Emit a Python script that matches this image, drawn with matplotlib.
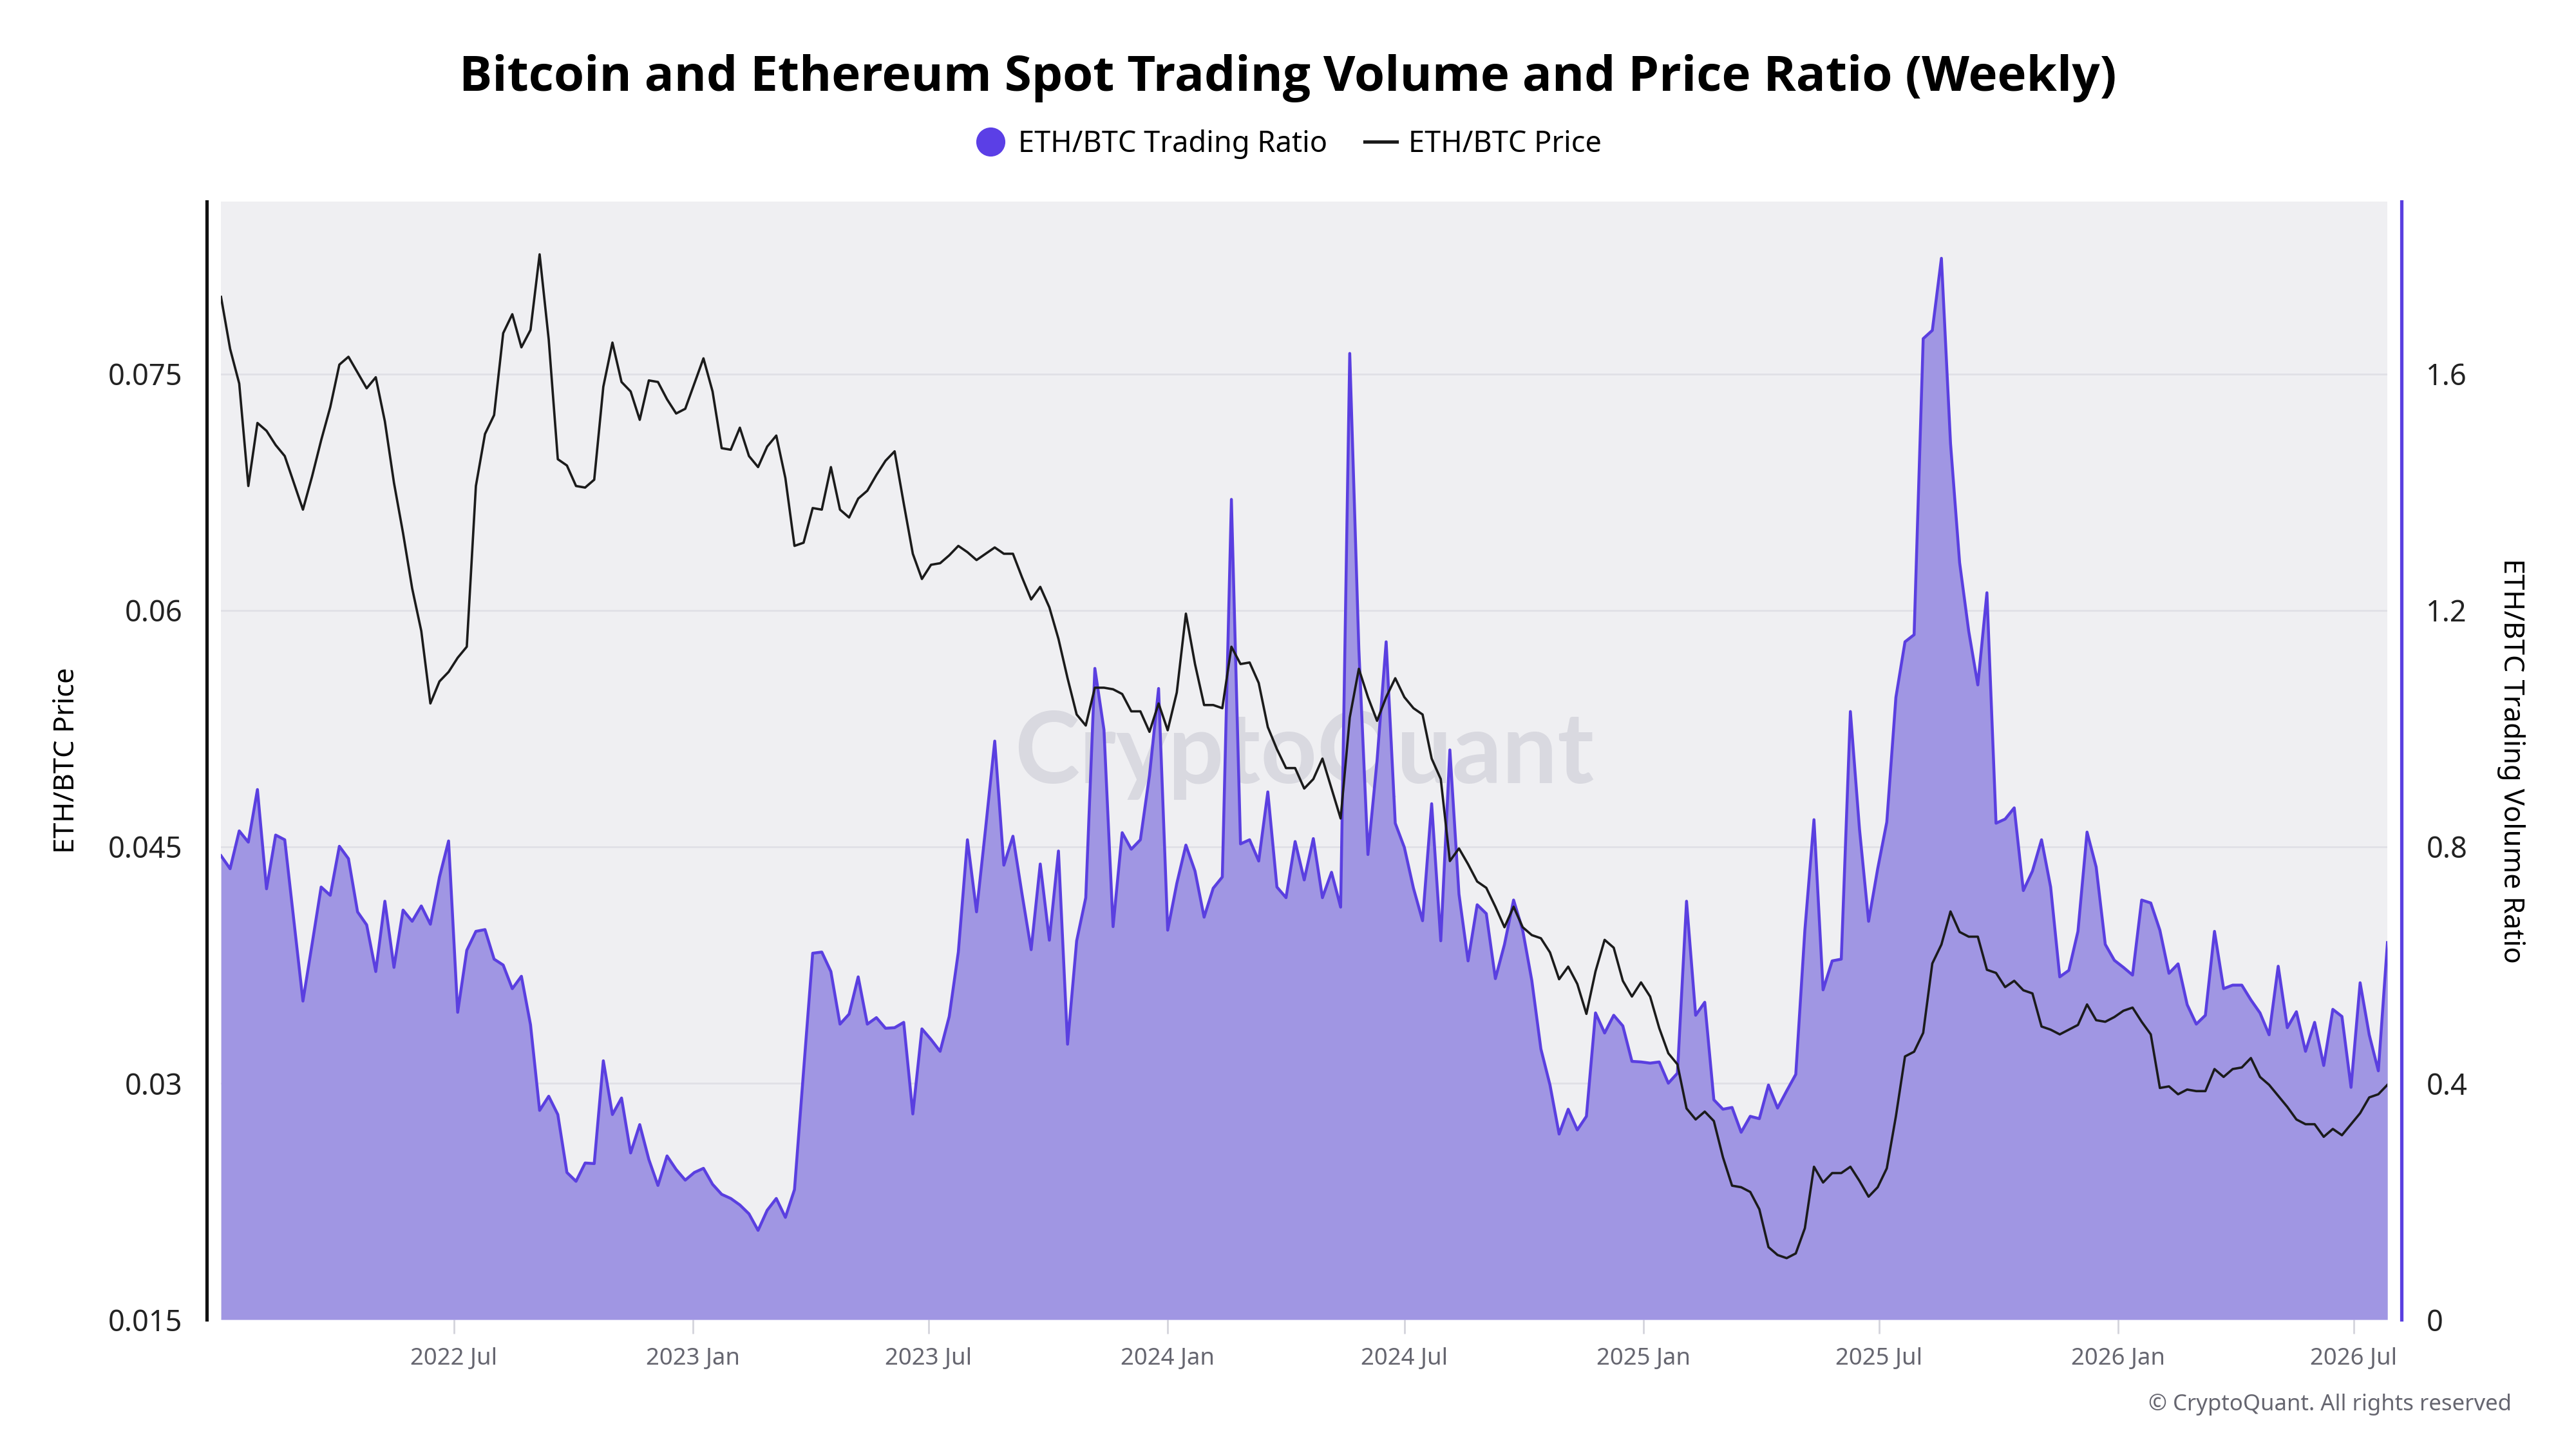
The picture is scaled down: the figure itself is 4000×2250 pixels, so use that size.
"""
ETH/BTC weekly spot trading volume ratio vs ETH/BTC price.
"""

import matplotlib
matplotlib.use("Agg")
import matplotlib.pyplot as plt
import pandas as pd
from matplotlib.lines import Line2D

plt.rcParams["font.family"] = ["Noto Sans", "DejaVu Sans"]

START_WEEK = "2022-01-03"

eth_btc_price = [
    0.0799, 0.0766, 0.0744, 0.0679, 0.0719, 0.0714, 0.0705, 0.0698, 0.0681, 0.0664,
    0.0685, 0.0708, 0.0729, 0.0756, 0.0761, 0.0751, 0.0741, 0.0748, 0.0720, 0.0681,
    0.0649, 0.0614, 0.0587, 0.0541, 0.0555, 0.0561, 0.0570, 0.0577, 0.0679, 0.0712,
    0.0724, 0.0776, 0.0788, 0.0767, 0.0778, 0.0826, 0.0772, 0.0696, 0.0692, 0.0679,
    0.0678, 0.0683, 0.0742, 0.0770, 0.0745, 0.0739, 0.0721, 0.0746, 0.0745,
    0.0734, 0.0725, 0.0728, 0.0744, 0.0760, 0.0739, 0.0703, 0.0702, 0.0716, 0.0698,
    0.0691, 0.0704, 0.0711, 0.0684, 0.0641, 0.0643, 0.0665, 0.0664, 0.0691, 0.0664,
    0.0659, 0.0671, 0.0676, 0.0686, 0.0695, 0.0701, 0.0668, 0.0636, 0.0620, 0.0629,
    0.0630, 0.0635, 0.0641, 0.0637, 0.0632, 0.0636, 0.0640, 0.0636, 0.0636, 0.0621,
    0.0607, 0.0615, 0.0602, 0.0582, 0.0557, 0.0534, 0.0527,
    0.0551, 0.0551, 0.0550, 0.0547, 0.0536, 0.0536, 0.0523, 0.0541, 0.0524, 0.0548,
    0.0598, 0.0566, 0.0540, 0.0540, 0.0538, 0.0577, 0.0566, 0.0567, 0.0554, 0.0526,
    0.0512, 0.0500, 0.0500, 0.0487, 0.0493, 0.0506, 0.0487, 0.0468, 0.0532, 0.0563,
    0.0545, 0.0530, 0.0545, 0.0557, 0.0545, 0.0538, 0.0534, 0.0506, 0.0493, 0.0441,
    0.0449, 0.0439, 0.0428, 0.0424, 0.0412, 0.0399, 0.0412,
    0.0399, 0.0394, 0.0392, 0.0383, 0.0366, 0.0374, 0.0363, 0.0344, 0.0371, 0.0391,
    0.0386, 0.0365, 0.0355, 0.0364, 0.0355, 0.0335, 0.0319, 0.0312, 0.0284, 0.0277,
    0.0282, 0.0276, 0.0253, 0.0235, 0.0234, 0.0231, 0.0220, 0.0196, 0.0191, 0.0189,
    0.0192, 0.0208, 0.0247, 0.0237, 0.0243, 0.0243, 0.0247, 0.0238, 0.0228, 0.0234,
    0.0246, 0.0279, 0.0317, 0.0320, 0.0332, 0.0376, 0.0388,
    0.0409, 0.0396, 0.0393, 0.0393, 0.0372, 0.0370, 0.0361, 0.0365, 0.0359, 0.0357,
    0.0336, 0.0334, 0.0331, 0.0334, 0.0337, 0.0350, 0.0340, 0.0339, 0.0342, 0.0346,
    0.0348, 0.0339, 0.0331, 0.0297, 0.0298, 0.0293, 0.0296, 0.0295, 0.0295, 0.0309,
    0.0304, 0.0309, 0.0310, 0.0316, 0.0304, 0.0299, 0.0292, 0.0285, 0.0277, 0.0274,
    0.0274, 0.0266, 0.0271, 0.0267, 0.0274, 0.0281, 0.0291, 0.0293, 0.0299,
]

trading_ratio = [
    0.785, 0.763, 0.827, 0.808, 0.897, 0.729, 0.820, 0.812, 0.675, 0.539,
    0.635, 0.732, 0.718, 0.801, 0.780, 0.690, 0.668, 0.589, 0.708, 0.596,
    0.693, 0.674, 0.700, 0.669, 0.749, 0.810, 0.520, 0.625, 0.657, 0.660,
    0.610, 0.600, 0.560, 0.581, 0.499, 0.354, 0.378, 0.347, 0.249, 0.234,
    0.265, 0.264, 0.438, 0.347, 0.375, 0.282, 0.330, 0.271, 0.227,
    0.277, 0.254, 0.236, 0.249, 0.256, 0.229, 0.212, 0.205, 0.194, 0.179,
    0.151, 0.185, 0.205, 0.173, 0.220, 0.421, 0.620, 0.622, 0.589, 0.500,
    0.517, 0.580, 0.500, 0.511, 0.493, 0.494, 0.503, 0.348, 0.492, 0.474,
    0.454, 0.513, 0.622, 0.812, 0.690, 0.832, 0.979, 0.769, 0.818, 0.720,
    0.626, 0.771, 0.642, 0.793, 0.466, 0.641, 0.714,
    1.102, 0.998, 0.665, 0.824, 0.796, 0.812, 0.921, 1.068, 0.659, 0.738,
    0.803, 0.759, 0.681, 0.730, 0.749, 1.388, 0.805, 0.812, 0.776, 0.893,
    0.732, 0.714, 0.809, 0.744, 0.814, 0.714, 0.757, 0.698, 1.635, 1.135,
    0.787, 0.946, 1.147, 0.840, 0.799, 0.730, 0.675, 0.873, 0.641, 0.964,
    0.720, 0.607, 0.702, 0.687, 0.577, 0.635, 0.710,
    0.659, 0.574, 0.458, 0.397, 0.314, 0.356, 0.321, 0.344, 0.519, 0.485,
    0.515, 0.497, 0.437, 0.436, 0.434, 0.436, 0.400, 0.417, 0.708, 0.515,
    0.537, 0.372, 0.356, 0.359, 0.317, 0.344, 0.340, 0.397, 0.358, 0.387,
    0.415, 0.659, 0.846, 0.558, 0.607, 0.610, 1.029, 0.830, 0.674, 0.763,
    0.842, 1.053, 1.147, 1.159, 1.660, 1.674, 1.796,
    1.483, 1.281, 1.165, 1.074, 1.230, 0.840, 0.847, 0.866, 0.726, 0.759,
    0.812, 0.732, 0.580, 0.591, 0.657, 0.825, 0.766, 0.635, 0.608, 0.596,
    0.583, 0.710, 0.705, 0.659, 0.586, 0.602, 0.533, 0.500, 0.515, 0.657,
    0.560, 0.566, 0.566, 0.541, 0.519, 0.482, 0.598, 0.494, 0.521, 0.454,
    0.503, 0.430, 0.525, 0.513, 0.393, 0.570, 0.482, 0.421, 0.638,
]

x_tick_dates = ["2022-07-01", "2023-01-01", "2023-07-01", "2024-01-01", "2024-07-01",
                "2025-01-01", "2025-07-01", "2026-01-01", "2026-07-01"]
x_tick_labels = ["2022 Jul", "2023 Jan", "2023 Jul", "2024 Jan", "2024 Jul",
                 "2025 Jan", "2025 Jul", "2026 Jan", "2026 Jul"]
price_ticks = [0.015, 0.03, 0.045, 0.06, 0.075]
ratio_ticks = [0, 0.4, 0.8, 1.2, 1.6]

PURPLE_LINE = "#5a3fe0"
PURPLE_FILL = "#a096e3"
PLOT_BG = "#efeff2"


def main():
    weeks = pd.date_range(START_WEEK, periods=len(trading_ratio), freq="7D")

    fig = plt.figure(figsize=(16, 9), dpi=250)
    ax_ratio = fig.add_axes([0.0858, 0.0893, 0.8410, 0.7716])
    ax_price = ax_ratio.twinx()

    ax_ratio.set_facecolor(PLOT_BG)
    ax_price.patch.set_visible(False)

    # watermark sits under the area fill
    ax_ratio.text(0.5, 0.505, "CryptoQuant", transform=ax_ratio.transAxes,
                  ha="center", va="center", fontsize=44, fontweight="bold",
                  family="Lato", color="#d9d9e0", zorder=0.5)

    ax_ratio.fill_between(weeks, trading_ratio, 0, color=PURPLE_FILL, lw=0, zorder=1)
    ax_ratio.plot(weeks, trading_ratio, color=PURPLE_LINE, lw=1.3, zorder=2)
    ax_price.plot(weeks, eth_btc_price, color="#1b1b1b", lw=1.05, zorder=3)

    ax_ratio.set_xlim(weeks[0], weeks[-1])
    ax_ratio.set_ylim(0, 1.892)
    ax_price.set_ylim(0.015, 0.08595)

    ax_ratio.set_yticks(ratio_ticks)
    ax_ratio.set_yticklabels([f"{t:g}" for t in ratio_ticks])
    ax_price.set_yticks(price_ticks)
    ax_price.set_yticklabels([f"{t:g}" for t in price_ticks])

    # ratio on the right, price on the left
    ax_ratio.yaxis.tick_right()
    ax_ratio.yaxis.set_label_position("right")
    ax_price.yaxis.tick_left()
    ax_price.yaxis.set_label_position("left")

    ax_ratio.set_axisbelow(True)
    ax_ratio.grid(axis="y", color="#e0e0e6", lw=0.8)
    ax_ratio.grid(axis="x", visible=False)

    ax_ratio.set_xticks(pd.to_datetime(x_tick_dates))
    ax_ratio.set_xticklabels(x_tick_labels)
    ax_ratio.tick_params(axis="x", direction="out", length=6.3, width=0.8,
                         color="#d4d4dc", labelsize=10.5, labelcolor="#666670", pad=6)
    ax_ratio.tick_params(axis="y", length=0, labelsize=13, labelcolor="#222222", pad=11)
    ax_price.tick_params(axis="y", length=0, labelsize=13, labelcolor="#222222", pad=11)

    for name in ["top", "bottom", "left"]:
        ax_ratio.spines[name].set_visible(False)
    for name in ["top", "bottom", "right"]:
        ax_price.spines[name].set_visible(False)
    ax_ratio.spines["right"].set_position(("outward", 6.3))
    ax_ratio.spines["right"].set_color(PURPLE_LINE)
    ax_ratio.spines["right"].set_linewidth(1.5)
    ax_price.spines["left"].set_visible(True)
    ax_price.spines["left"].set_position(("outward", 6.3))
    ax_price.spines["left"].set_color("#111111")
    ax_price.spines["left"].set_linewidth(1.5)

    ax_price.set_ylabel("ETH/BTC Price", fontsize=12.5, labelpad=12)
    ax_ratio.set_ylabel("ETH/BTC Trading Volume Ratio", fontsize=12.5,
                        rotation=-90, labelpad=26)

    fig.text(0.5, 0.946, "Bitcoin and Ethereum Spot Trading Volume and Price Ratio (Weekly)",
             ha="center", va="center", fontsize=22, fontweight="bold",
             family=["Open Sans", "DejaVu Sans"])

    handles = [
        Line2D([], [], marker="o", ls="none", color="#5b3fe6", markersize=12),
        Line2D([], [], color="#1b1b1b", lw=1.5),
    ]
    fig.legend(handles, ["ETH/BTC Trading Ratio", "ETH/BTC Price"], loc="center",
               bbox_to_anchor=(0.5, 0.9004), ncol=2, frameon=False, fontsize=13,
               handlelength=1.1, handletextpad=0.4, columnspacing=1.3)

    fig.text(0.975, 0.0307, "\u00a9 CryptoQuant. All rights reserved", ha="right",
             va="center", fontsize=10, color="#666670")

    fig.savefig("out.png", dpi=250)
    plt.close(fig)


if __name__ == "__main__":
    main()
